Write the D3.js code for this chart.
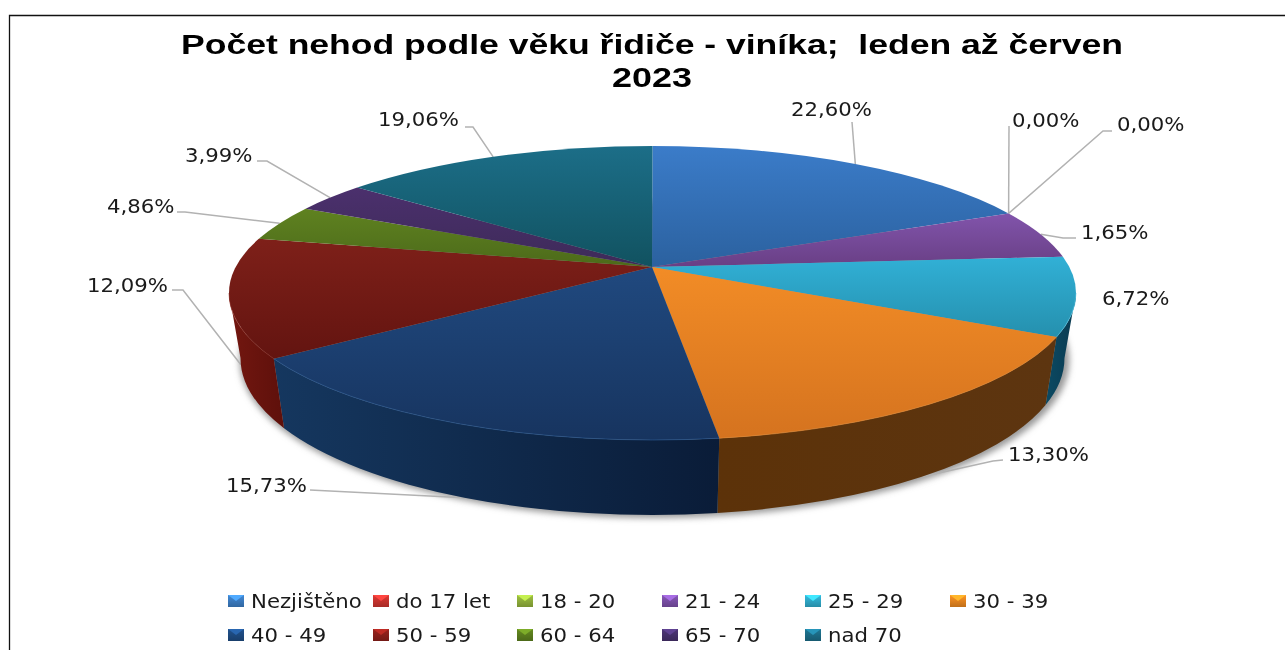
<!DOCTYPE html>
<html>
<head>
<meta charset="utf-8">
<script src="https://cdn.jsdelivr.net/npm/d3@7"></script>
<style>
  html, body { margin: 0; background: #fff; }
  svg { display: block; filter: blur(0.4px); }
  text { white-space: pre; }
</style>
</head>
<body>
<div id="chart"></div>
<script>
const categories = ["Nezjištěno", "do 17 let", "18 - 20", "21 - 24", "25 - 29", "30 - 39", "40 - 49", "50 - 59", "60 - 64", "65 - 70", "nad 70"];
// printed labels
const percentLabels = ["22,60%", "0,00%", "0,00%", "1,65%", "6,72%", "13,30%", "15,73%", "12,09%", "4,86%", "3,99%", "19,06%"];
// the slices in the picture do not follow the printed labels, so these are read off the drawn rim (%)
const sliceShares = [15.9, 0, 0, 5.14, 8.81, 17.64, 20.14, 13.39, 3.72, 3.0, 12.28];

const topLight = ["#3b7cc9", "#c8362f", "#93b53a", "#8154ab", "#31b0d6", "#f28c26", "#20497f", "#7e2019", "#5f8220", "#4b306d", "#1c6e88"];
const topDark = ["#2b619f", "#9c2622", "#6f8a2a", "#693f85", "#2590ae", "#d5731f", "#17345f", "#631410", "#4c6a1a", "#3d2a58", "#115260"];
const sideLeft = ["#1d3f68", "#6a120c", "#4c6a1a", "#3d2a58", "#0b4a63", "#5c3209", "#15375f", "#731710", "#3c5412", "#2d1f46", "#0b4050"];
const sideRight = ["#1d3f68", "#5e100b", "#4c6a1a", "#3d2a58", "#0b3a50", "#5d3510", "#0a1c38", "#5e100b", "#3c5412", "#2d1f46", "#0b4050"];
const rimLight = ["#4d8ad0", "#d05040", "#a0c050", "#9068b8", "#50c0e0", "#e88a30", "#2c5c96", "#8a2a22", "#70902c", "#5a3e80", "#2a7c98"];
const swatchColor = ["#3a7bc0", "#c8332f", "#8fae3a", "#7a4fa6", "#2fa8c8", "#e5851f", "#1e4a80", "#8a1f1a", "#5b7d1e", "#45306a", "#1c6c86"];

const width = 1285, height = 650;

// label left edge, baseline, and leader elbow points
const labelLayout = [
  {x: 791, y: 116, leader: [[852, 122]]},
  {x: 1012, y: 127, leader: [[1009, 126]]},
  {x: 1117, y: 131, leader: [[1112, 131], [1103, 131]]},
  {x: 1081, y: 239, leader: [[1076, 238], [1063, 238]]},
  {x: 1102, y: 305, leader: null},
  {x: 1008, y: 461, leader: [[1003, 460], [993, 461]], front: true},
  {x: 226, y: 492, leader: [[310, 490]], front: true},
  {x: 87, y: 292, leader: [[172, 290], [183, 290]], front: true},
  {x: 107, y: 213, leader: [[177, 212], [185, 212]]},
  {x: 185, y: 162, leader: [[257, 161], [267, 161]]},
  {x: 378, y: 126, leader: [[465, 127], [473, 127]]}
];

const legendCols = [228, 373, 517, 662, 805, 950];
const legendRows = [595, 629];
const textStretch = 1.09;

// pie geometry: top rim, bottom rim, apex of the slices
const top3d = {cx: 652.5, cy: 293, rx: 423.5, ry: 147};
const bottom3d = {cx: 652.5, cy: 358, rx: 412, ry: 157};
const apex = [652, 267];

function rimPoint(e, t) {
  return [e.cx + e.rx * Math.sin(t), e.cy - e.ry * Math.cos(t)];
}

function arcTo(e, t0, t1, sweep) {
  const p = rimPoint(e, t1);
  const large = Math.abs(t1 - t0) > Math.PI ? 1 : 0;
  return `A${e.rx} ${e.ry} 0 ${large} ${sweep} ${p[0]} ${p[1]}`;
}

const svg = d3.select("#chart").append("svg")
  .attr("width", width)
  .attr("height", height);

const defs = svg.append("defs");
defs.append("filter").attr("id", "soft")
  .attr("x", "-5%").attr("y", "-5%").attr("width", "110%").attr("height", "110%")
  .append("feGaussianBlur").attr("stdDeviation", 3);

categories.forEach((c, i) => {
  const g = defs.append("linearGradient").attr("id", "top" + i)
    .attr("x1", 0).attr("y1", 0).attr("x2", 0).attr("y2", 1);
  g.append("stop").attr("offset", 0).attr("stop-color", topLight[i]);
  g.append("stop").attr("offset", 1).attr("stop-color", topDark[i]);

  const s = defs.append("linearGradient").attr("id", "side" + i)
    .attr("x1", 0).attr("y1", 0).attr("x2", 1).attr("y2", 0);
  s.append("stop").attr("offset", 0).attr("stop-color", sideLeft[i]);
  s.append("stop").attr("offset", 1).attr("stop-color", sideRight[i]);

  const l = defs.append("linearGradient").attr("id", "swatch" + i)
    .attr("x1", 0).attr("y1", 0).attr("x2", 0).attr("y2", 1);
  l.append("stop").attr("offset", 0).attr("stop-color", d3.color(swatchColor[i]).brighter(0.3));
  l.append("stop").attr("offset", 1).attr("stop-color", d3.color(swatchColor[i]).darker(0.5));
});

// frame, only left and top edges are in the crop
svg.append("path")
  .attr("d", "M9.5 650V15.5H1285")
  .attr("fill", "none")
  .attr("stroke", "#111")
  .attr("stroke-width", 1.3);

// title
svg.append("text")
  .attr("x", 181).attr("y", 54)
  .attr("textLength", 942).attr("lengthAdjust", "spacingAndGlyphs")
  .attr("font-family", "Liberation Sans").attr("font-weight", "bold").attr("font-size", 27)
  .attr("fill", "#000")
  .text("Počet nehod podle věku řidiče - viníka;  leden až červen");
svg.append("text")
  .attr("x", 612).attr("y", 87)
  .attr("textLength", 80).attr("lengthAdjust", "spacingAndGlyphs")
  .attr("font-family", "Liberation Sans").attr("font-weight", "bold").attr("font-size", 27)
  .attr("fill", "#000")
  .text("2023");

const slices = d3.pie().sort(null).startAngle(0).endAngle(2 * Math.PI)(sliceShares);

// shadow under the body
svg.append("ellipse")
  .attr("cx", bottom3d.cx + 2).attr("cy", bottom3d.cy + 2)
  .attr("rx", bottom3d.rx + 3).attr("ry", bottom3d.ry + 1)
  .attr("fill", "#999")
  .attr("filter", "url(#soft)");

// leaders go under the pie
const leaderLine = d3.line();
svg.append("g").selectAll("path")
  .data(slices.filter((d, i) => labelLayout[i].leader))
  .join("path")
  .attr("d", d => {
    const lay = labelLayout[d.index];
    const mid = (d.startAngle + d.endAngle) / 2;
    return leaderLine(lay.leader.concat([rimPoint(lay.front ? bottom3d : top3d, mid)]));
  })
  .attr("fill", "none")
  .attr("stroke", "#b2b2b2")
  .attr("stroke-width", 1.5);

// side walls, only the front half of the rim shows
const front0 = Math.PI / 2, front1 = 3 * Math.PI / 2;
svg.append("g").selectAll("path")
  .data(slices.filter(d => d.endAngle > front0 && d.startAngle < front1 && d.value > 0))
  .join("path")
  .attr("d", d => {
    const t0 = Math.max(d.startAngle, front0), t1 = Math.min(d.endAngle, front1);
    const a = rimPoint(top3d, t0), b = rimPoint(bottom3d, t1);
    return `M${a[0]} ${a[1]}` + arcTo(top3d, t0, t1, 1) + `L${b[0]} ${b[1]}` + arcTo(bottom3d, t1, t0, 0) + "Z";
  })
  .attr("fill", d => `url(#side${d.index})`);

// top face
const visible = slices.filter(d => d.value > 0);
svg.append("g").selectAll("path")
  .data(visible)
  .join("path")
  .attr("d", d => {
    const a = rimPoint(top3d, d.startAngle);
    return `M${apex[0]} ${apex[1]}L${a[0]} ${a[1]}` + arcTo(top3d, d.startAngle, d.endAngle, 1) + "Z";
  })
  .attr("fill", d => `url(#top${d.index})`);

// thin bevel along the front rim
svg.append("g").selectAll("path")
  .data(visible.filter(d => d.endAngle > front0 && d.startAngle < front1))
  .join("path")
  .attr("d", d => {
    const t0 = Math.max(d.startAngle, front0), t1 = Math.min(d.endAngle, front1);
    const a = rimPoint(top3d, t0);
    return `M${a[0]} ${a[1]}` + arcTo(top3d, t0, t1, 1);
  })
  .attr("fill", "none")
  .attr("stroke", d => rimLight[d.index])
  .attr("stroke-opacity", 0.6);

// percent labels
svg.append("g").selectAll("text")
  .data(percentLabels)
  .join("text")
  .attr("transform", (d, i) => `translate(${labelLayout[i].x},${labelLayout[i].y}) scale(${textStretch},1)`)
  .attr("font-family", "DejaVu Sans")
  .attr("font-size", 19.5)
  .attr("fill", "#1a1a1a")
  .text(d => d);

// legend, six items on the first row
const legend = svg.append("g").selectAll("g")
  .data(categories)
  .join("g")
  .attr("transform", (d, i) => `translate(${legendCols[i % 6]},${legendRows[Math.floor(i / 6)]})`);

legend.append("rect")
  .attr("width", 16).attr("height", 12)
  .attr("fill", (d, i) => `url(#swatch${i})`);
legend.append("path")
  .attr("d", "M0 0H16L8 6Z")
  .attr("fill", (d, i) => d3.color(swatchColor[i]).brighter(0.9));
legend.append("text")
  .attr("transform", `translate(23,13) scale(${textStretch},1)`)
  .attr("font-family", "DejaVu Sans")
  .attr("font-size", 19.5)
  .attr("fill", "#1a1a1a")
  .text(d => d);
</script>
</body>
</html>
